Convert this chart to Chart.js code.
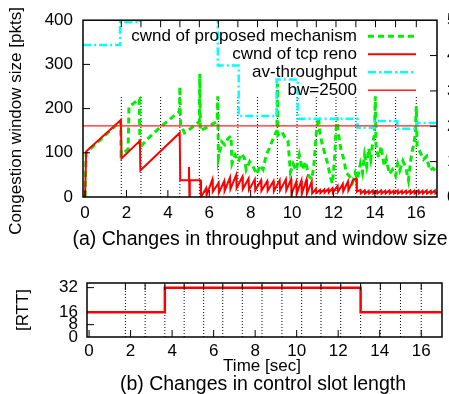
<!DOCTYPE html>
<html>
<head>
<meta charset="utf-8">
<script src="https://cdn.jsdelivr.net/npm/chart.js@4.4.0/dist/chart.umd.min.js"></script>
<style>
html, body { margin: 0; padding: 0; background: #fff; overflow: hidden; width: 449px; height: 394px; }
canvas { position: absolute; left: 0; }
#top { top: 0; }
#bot { top: 262px; }
.lbl { position: absolute; font-family: "Liberation Sans", Arial, sans-serif; color: #000; white-space: nowrap; line-height: 1; transform: translate(-50%, -50%); }
.rot { transform: translate(-50%, -50%) rotate(-90deg); }
</style>
</head>
<body>
<canvas id="top" width="480" height="250"></canvas>
<canvas id="bot" width="449" height="132"></canvas>
<div class="lbl rot" style="left:15px;top:121px;font-size:17px">Congestion window size [pkts]</div>
<div class="lbl" style="left:260px;top:239px;font-size:19.5px">(a) Changes in throughput and window size</div>
<div class="lbl rot" style="left:22px;top:310px;font-size:17px">[RTT]</div>
<div class="lbl" style="left:262px;top:365px;font-size:17px">Time [sec]</div>
<div class="lbl" style="left:263px;top:384px;font-size:19.5px">(b) Changes in control slot length</div>
<script>
// tick values
const xTicks = [0, 2, 4, 6, 8, 10, 12, 14, 16];
const cwndTicks = [0, 100, 200, 300, 400];
const thrTicks = [0, 1, 2, 3, 4, 5];
const rttTicks = [0, 8, 16, 32];

// control slot boundaries (dotted lines) [sec]
const slotTimes = [1.75, 2.7, 3.65, 4.58, 5.52, 6.44, 7.38, 8.33, 9.29, 10.24, 11.17, 12.12, 13.08, 14.03, 15.0, 16.0];
const slotTop = 228;

// cwnd of proposed mechanism [pkts]
const propT = [0, 0.05, 1.72, 1.74, 2.08, 2.12, 2.35, 2.62, 2.65, 3.1, 3.6, 4.0, 4.45, 4.56, 4.58, 4.61, 4.8, 5.1, 5.45, 5.52,
  5.54, 5.57, 5.9, 6.27, 6.38, 6.41, 6.44, 6.6, 6.75, 6.9, 7.05, 7.1, 7.25, 7.4, 7.55, 7.7, 7.78, 7.95, 8.1, 8.3,
  8.45, 8.6, 8.75, 8.9, 9.05, 9.2, 9.27, 9.29, 9.32, 9.5, 9.65, 9.8, 9.92, 10.05, 10.2, 10.35, 10.5, 10.65, 10.8, 10.95,
  11.05, 11.18, 11.28, 11.33, 11.45, 11.6, 11.72, 11.85, 11.95, 12.05, 12.12, 12.17, 12.22, 12.35, 12.5, 12.62, 12.8, 12.92, 13.05, 13.15,
  13.3, 13.4, 13.5, 13.6, 13.7, 13.8, 13.9, 13.98, 14.02, 14.06, 14.2, 14.3, 14.45, 14.55, 14.7, 14.85, 15.0, 15.1, 15.2, 15.35,
  15.5, 15.62, 15.75, 15.85, 15.95, 16.0, 16.04, 16.2, 16.35, 16.5, 16.65, 16.8, 17.0];
const propV = [0, 100, 172, 95, 108, 205, 212, 222, 112, 135, 157, 172, 190, 193, 250, 165, 145, 155, 168, 171,
  279, 150, 158, 168, 172, 228, 88, 125, 118, 132, 138, 76, 95, 80, 98, 88, 62, 80, 70, 52,
  72, 62, 95, 110, 128, 145, 150, 257, 140, 148, 135, 128, 56, 75, 60, 95, 62, 80, 48, 40,
  70, 150, 180, 150, 120, 95, 75, 45, 30, 85, 150, 180, 150, 110, 85, 55, 45, 33, 55, 40,
  75, 55, 95, 70, 110, 85, 125, 140, 228, 105, 90, 115, 70, 85, 52, 62, 48, 75, 60, 82,
  65, 38, 90, 115, 140, 205, 115, 100, 85, 92, 60, 65, 55];

// cwnd of tcp reno [pkts]
const renoT = [0, 0.05, 1.73, 1.76, 2.65, 2.67, 4.57, 4.6, 5.0, 5.02, 5.04, 5.06, 5.57, 5.6, 5.85, 5.87, 6.15, 6.17, 6.45, 6.47,
  6.72, 6.74, 7.0, 7.02, 7.3, 7.32, 7.6, 7.62, 7.9, 7.92, 8.2, 8.22, 8.5, 8.52, 8.8, 8.82, 9.1, 9.12, 9.4, 9.42,
  9.7, 9.72, 9.95, 9.97, 10.2, 10.22, 10.45, 10.47, 10.7, 10.72, 10.95, 10.97, 11.15, 11.17, 11.35, 11.37, 11.55, 11.57, 11.75, 11.77,
  11.95, 11.97, 12.2, 12.22, 12.45, 12.47, 12.7, 12.72, 12.95, 13.1, 13.13, 13.3, 13.32, 13.5, 13.52, 13.7, 13.72, 13.9, 13.92, 14.1,
  14.12, 14.3, 14.32, 14.5, 14.52, 14.7, 14.72, 14.9, 14.92, 15.1, 15.12, 15.3, 15.32, 15.5, 15.52, 15.7, 15.72, 15.9, 15.92, 16.1,
  16.12, 16.3, 16.32, 16.5, 16.52, 16.7, 16.72, 16.9, 16.92, 17.0];
const renoV = [0, 103, 174, 87, 127, 60, 145, 38, 38, 68, 2, 38, 38, 0, 20, 4, 40, 12, 32, 10,
  36, 14, 44, 18, 50, 20, 46, 18, 42, 16, 40, 15, 38, 14, 36, 14, 36, 13, 38, 15,
  40, 15, 40, 7, 34, 7, 37, 7, 40, 8, 35, 8, 18, 9, 16, 9, 17, 10, 18, 10,
  20, 10, 25, 12, 30, 13, 35, 15, 38, 42, 12, 16, 8, 15, 8, 14, 8, 15, 8, 14,
  8, 15, 8, 14, 8, 15, 8, 14, 8, 15, 8, 14, 8, 14, 8, 15, 8, 14, 8, 15,
  8, 14, 8, 15, 8, 14, 8, 15, 8, 10];

// av-throughput (right axis), step values starting at thrT
const thrT = [-0.1, 1.69, 2.65, 6.41, 7.42, 9.25, 10.27, 13.16, 13.98, 15.08, 16.0, 17.0];
const thrV = [4.30, 4.94, 5.3, 3.72, 2.29, 3.32, 2.21, 1.96, 2.15, 1.93, 2.09, 2.09];

// bw=2500 level [pkts]
const bwT = [-0.1, 17];
const bwV = [161, 161];

// control slot length [RTT]
const rttT = [-0.1, 3.65, 13.08, 17];
const rttV = [16, 32, 16, 16];

const FONT = { family: '"Liberation Sans", Arial, sans-serif', size: 17 };

function pts(t, v) {
  return t.map((x, i) => ({ x: x, y: v[i] }));
}
function slotPts(top) {
  const out = [];
  slotTimes.forEach(t => { out.push({ x: t, y: 0 }, { x: t, y: top }, { x: t, y: null }); });
  return out;
}
function setTicks(vals) {
  return s => { s.ticks = vals.map(v => ({ value: v })); };
}

// gnuplot style border with inward ticks
const framePlugin = {
  id: 'frame',
  afterDraw(chart, args, o) {
    const { ctx, chartArea: a, scales } = chart;
    const tl = 7;
    ctx.save();
    ctx.strokeStyle = '#000';
    ctx.lineWidth = 1;
    ctx.beginPath();
    (o.bottom || []).forEach(v => { const x = scales.x.getPixelForValue(v); ctx.moveTo(x, a.bottom); ctx.lineTo(x, a.bottom - tl); });
    (o.top || []).forEach(v => { const x = scales.x.getPixelForValue(v); ctx.moveTo(x, a.top); ctx.lineTo(x, a.top + tl); });
    (o.left || []).forEach(v => { const y = scales.y.getPixelForValue(v); ctx.moveTo(a.left, y); ctx.lineTo(a.left + tl, y); });
    (o.right || []).forEach(v => { const y = scales.y1.getPixelForValue(v); ctx.moveTo(a.right, y); ctx.lineTo(a.right - tl, y); });
    ctx.stroke();
    ctx.lineWidth = 1.5;
    ctx.strokeRect(a.left, a.top, a.right - a.left, a.bottom - a.top);
    ctx.restore();
  }
};

// key in the upper right, text right aligned, sample to its right
const keyPlugin = {
  id: 'key',
  afterDatasetsDraw(chart, args, o) {
    if (!o.show) return;
    const { ctx, chartArea: a } = chart;
    ctx.save();
    ctx.font = '17px "Liberation Sans", Arial, sans-serif';
    ctx.textAlign = 'right';
    ctx.textBaseline = 'middle';
    let row = 0;
    chart.data.datasets.forEach(ds => {
      if (!ds.label) return;
      const y = a.top + 16 + row * 18;
      ctx.fillStyle = '#000';
      ctx.fillText(ds.label, a.right - 80, y);
      ctx.strokeStyle = ds.borderColor;
      ctx.lineWidth = ds.borderWidth;
      ctx.setLineDash(ds.borderDash || []);
      ctx.beginPath();
      ctx.moveTo(a.right - 69, y);
      ctx.lineTo(a.right - 21, y);
      ctx.stroke();
      ctx.setLineDash([]);
      row++;
    });
    ctx.restore();
  }
};

const common = { pointRadius: 0, tension: 0, fill: false };

new Chart(document.getElementById('top'), {
  type: 'line',
  data: {
    datasets: [
      { ...common, label: 'cwnd of proposed mechanism', data: pts(propT, propV), borderColor: '#00ee00', borderWidth: 3, borderDash: [6, 4], order: 4 },
      { ...common, label: 'cwnd of tcp reno', data: pts(renoT, renoV), borderColor: '#ff0000', borderWidth: 2, order: 3 },
      { ...common, label: 'av-throughput', data: pts(thrT, thrV), yAxisID: 'y1', stepped: true, borderColor: '#00ffff', borderWidth: 2.5, borderDash: [8, 3, 2, 3], order: 2 },
      { ...common, label: 'bw=2500', data: pts(bwT, bwV), borderColor: '#ff2020', borderWidth: 1.4, order: 1 },
      { ...common, data: slotPts(slotTop), borderColor: '#000', borderWidth: 1, borderDash: [1, 2], order: 10 }
    ]
  },
  options: {
    responsive: false,
    animation: false,
    layout: { padding: { top: 18, left: 0, right: 0, bottom: 0 } },
    plugins: {
      legend: { display: false },
      tooltip: { enabled: false },
      frame: { bottom: xTicks, top: slotTimes, left: [100, 200, 300], right: [1, 2, 3, 4] },
      key: { show: true }
    },
    scales: {
      x: {
        type: 'linear', min: -0.1, max: 17,
        grid: { display: false, drawTicks: false }, border: { display: false },
        afterBuildTicks: setTicks(xTicks),
        afterFit: s => { s.height = 53; },
        ticks: { font: FONT, color: '#000', padding: 6, maxRotation: 0, autoSkip: false }
      },
      y: {
        min: 0, max: 400,
        grid: { display: false, drawTicks: false }, border: { display: false },
        afterBuildTicks: setTicks(cwndTicks),
        afterFit: s => { s.width = 83; },
        ticks: { font: FONT, color: '#000', padding: 10, autoSkip: false }
      },
      y1: {
        position: 'right', min: 0, max: 5,
        grid: { display: false, drawTicks: false }, border: { display: false },
        afterBuildTicks: setTicks(thrTicks),
        afterFit: s => { s.width = 480 - 437; },
        ticks: { font: FONT, color: '#000', padding: 10, autoSkip: false }
      }
    }
  },
  plugins: [framePlugin, keyPlugin]
});

new Chart(document.getElementById('bot'), {
  type: 'line',
  data: {
    datasets: [
      { ...common, data: pts(rttT, rttV), stepped: true, borderColor: '#ff0000', borderWidth: 2.5, order: 1 },
      { ...common, data: slotPts(35), borderColor: '#000', borderWidth: 1, borderDash: [1, 2], order: 10 }
    ]
  },
  options: {
    responsive: false,
    animation: false,
    layout: { padding: { top: 21, left: 0, right: 7, bottom: 0 } },
    plugins: {
      legend: { display: false },
      tooltip: { enabled: false },
      frame: { bottom: xTicks, top: slotTimes, left: [8, 32] },
      key: { show: false }
    },
    scales: {
      x: {
        type: 'linear', min: -0.1, max: 17,
        grid: { display: false, drawTicks: false }, border: { display: false },
        afterBuildTicks: setTicks(xTicks),
        afterFit: s => { s.height = 132 - 75; },
        ticks: { font: FONT, color: '#000', padding: 4, maxRotation: 0, autoSkip: false }
      },
      y: {
        min: 0, max: 35,
        grid: { display: false, drawTicks: false }, border: { display: false },
        afterBuildTicks: setTicks(rttTicks),
        afterFit: s => { s.width = 87; },
        ticks: { font: FONT, color: '#000', padding: 9, autoSkip: false }
      }
    }
  },
  plugins: [framePlugin, keyPlugin]
});
</script>
</body>
</html>
